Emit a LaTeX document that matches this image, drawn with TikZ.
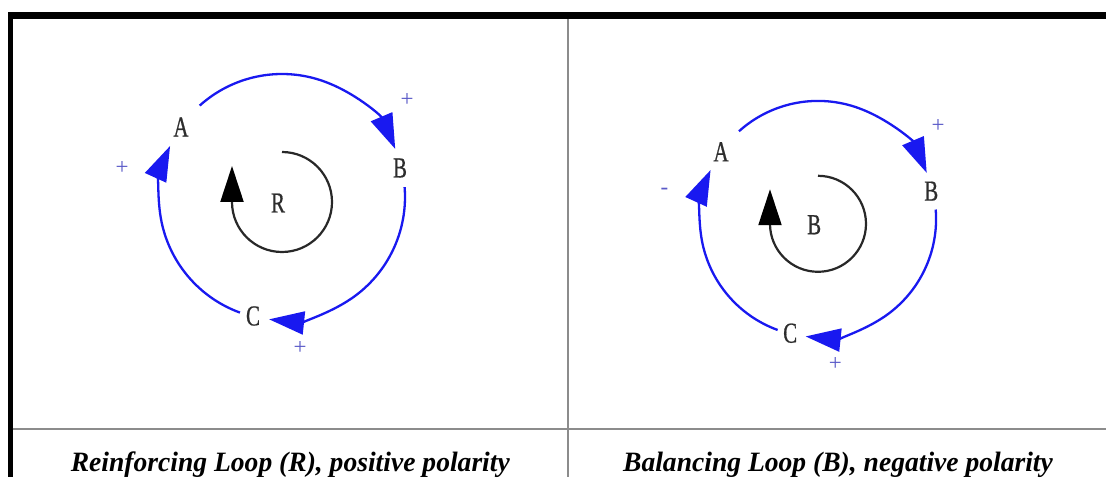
\documentclass[tikz,border=0pt]{standalone}
\usepackage{fontspec}
\setmainfont{Liberation Serif}
\newfontfamily\lblfont[FakeStretch=0.72,FakeBold=0.6]{Liberation Serif}
\newfontfamily\capfont[FakeStretch=0.985]{Liberation Serif}
\usetikzlibrary{arrows.meta,calc}
\definecolor{loopblue}{RGB}{25,25,240}
\definecolor{signblue}{RGB}{90,90,200}
\definecolor{rulegray}{RGB}{140,140,140}
\definecolor{lblgray}{RGB}{45,45,45}
\definecolor{innergray}{RGB}{40,40,40}
\tikzset{
  link/.style={loopblue, line width=2.3pt, -{Triangle[length=35pt,width=23pt]}},
  innerloop/.style={innergray, line width=2.2pt, -{Triangle[length=36pt,width=23pt,color=black]}},
  var/.style={font=\lblfont\fontsize{29}{29}\selectfont, text=lblgray, inner sep=0pt},
  sign/.style={font=\fontsize{23}{23}\selectfont, text=signblue, inner sep=0pt},
  caption/.style={font=\capfont\bfseries\itshape\fontsize{28}{28}\selectfont, anchor=base, inner sep=0pt},
  rule/.style={rulegray, line width=1.4pt}
}
\newcommand\drawloop[5]{%
  \begin{scope}[shift={#2}, scale=#3]
    \coordinate (#1o) at (0,0);
    \node[var] (#1A) at (-101,70) {A};
    \node[var] (#1B) at (118,29) {B};
    \node[var] (#1C) at (-29,-119) {C};
    \node[var] (#1R) at (-4,-6) {#4};
    \node[sign] (#1sAB) at (125,97) {+};
    \node[sign] (#1sCA) at (-160,29) {#5};
    \node[sign] (#1sBC) at (18,-151) {+};
    \draw[link] ($(#1o)+(132:123)$) arc[start angle=132, end angle=23, radius=123];
    \draw[link] ($(#1o)+(4.6:123)$) arc[start angle=4.6, end angle=-96, radius=123];
    \draw[link] ($(#1o)+(-110:123)$) arc[start angle=-110, end angle=-204.5, radius=123];
    \draw[innerloop] ($(#1o)+(0,45)$) arc[start angle=90, end angle=-180, radius=50] -- ++(0,36);
  \end{scope}}
\begin{document}
\begin{tikzpicture}[x=1pt,y=1pt]
  \useasboundingbox (0,0) rectangle (1106,477);
  \fill[white] (0,0) rectangle (1106,477);
  % frame
  \coordinate (tl) at (7.5,464.7);
  \coordinate (tr) at (1106,458);
  \coordinate (bl) at (12.7,0);
  \fill[black] (tl) rectangle (tr);
  \fill[black] (tl) rectangle (bl);
  \coordinate (vtop) at (568,458);
  \coordinate (vbot) at (568,0);
  \draw[rule] (vtop) -- (vbot);
  \coordinate (hl) at (12.7,48);
  \coordinate (hr) at (1106,48);
  \draw[rule] (hl) -- (hr);
  % diagrams
  \drawloop{L}{(282,280)}{1}{R}{+}
  \drawloop{Q}{(818,258)}{0.96}{B}{-}
  % captions
  \node[caption] (capL) at (290.3,6) {Reinforcing Loop (R), positive polarity};
  \node[caption] (capR) at (838,6) {Balancing Loop (B), negative polarity};
\end{tikzpicture}
\end{document}
